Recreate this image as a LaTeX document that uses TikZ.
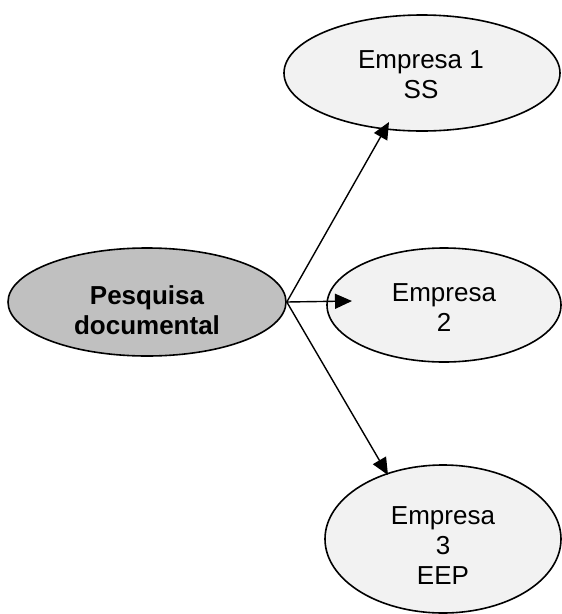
\documentclass[tikz,border=0pt]{standalone}
\usepackage{fontspec}
\setmainfont{Liberation Sans}
\usetikzlibrary{shapes.geometric,arrows.meta}
\definecolor{hubgray}{HTML}{C0C0C0}
\definecolor{leafgray}{HTML}{F2F2F2}
\begin{document}
\begin{tikzpicture}[x=1pt,y=-1pt,
  oval/.style={ellipse, draw=black, line width=1.6pt, inner sep=0pt},
  hub/.style={oval, fill=hubgray},
  leaf/.style={oval, fill=leafgray},
  caption/.style={align=center, font=\fontsize{26}{30}\selectfont, inner sep=0pt},
  boldcaption/.style={caption, font=\fontsize{26}{30}\selectfont\bfseries},
  link/.style={line width=1.4pt, -{Triangle[length=17pt,width=15pt]}}
]
\useasboundingbox (0,0) rectangle (562,614);

% central topic
\node[hub, minimum width=278pt, minimum height=108pt] (pd) at (147,302) {};
\node[boldcaption] (pdtext) at (147,310.5) {Pesquisa\\documental};

% companies
\node[leaf, minimum width=276pt, minimum height=116pt] (e1) at (422,73) {};
\node[caption] (e1text) at (421,74.5) {Empresa 1\\SS};

\node[leaf, minimum width=234pt, minimum height=114pt] (e2) at (444,305) {};
\node[caption] (e2text) at (444,308) {Empresa\\2};

\node[leaf, minimum width=236pt, minimum height=148pt] (e3) at (443,539) {};
\node[caption] (e3text) at (443,545.5) {Empresa\\3\\EEP};

% arrow tips
\coordinate (tip1) at (389,122);
\coordinate (tip2) at (352,301);
\coordinate (tip3) at (388,475);

\draw[link] (pd.east) -- (tip1);
\draw[link] (pd.east) -- (tip2);
\draw[link] (pd.east) -- (tip3);
\end{tikzpicture}
\end{document}
